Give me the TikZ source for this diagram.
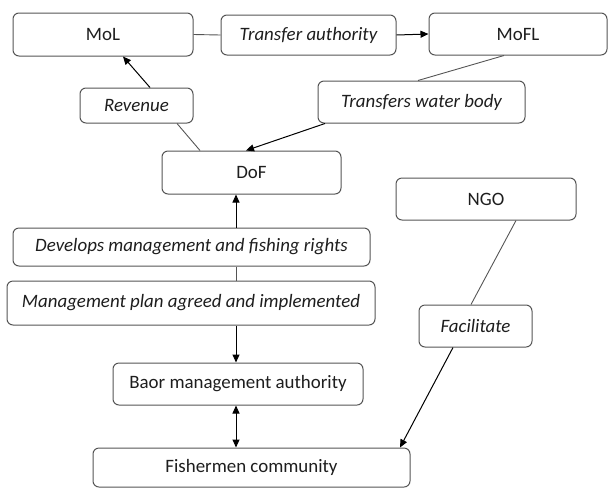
\documentclass[tikz,border=0pt]{standalone}
\usepackage{fontspec}
\setmainfont{Carlito}
\usetikzlibrary{arrows.meta}
\definecolor{boxline}{HTML}{555555}
\definecolor{txt}{HTML}{1E1E1E}
\definecolor{thin}{HTML}{555555}
\begin{document}
\begin{tikzpicture}[x=1pt,y=-1pt,
  box/.style={draw=boxline,line width=1pt,rounded corners=6pt,fill=white,
    text=txt,font=\fontsize{18.9}{22}\selectfont,inner sep=0pt,anchor=center},
  ibox/.style={box,font=\fontsize{18.9}{22}\selectfont\itshape},
  arr/.style={draw=black,line width=1pt,-{Triangle[length=8pt,width=7pt]}},
  darr/.style={draw=black,line width=1pt,{Triangle[length=8pt,width=7pt]}-{Triangle[length=8pt,width=7pt]}},
  pline/.style={draw=thin,line width=0.9pt}]
\useasboundingbox (0,0) rectangle (609,488);
\node[box,minimum width=180pt,minimum height=43pt] (mol) at (103,34.5) {MoL};
\node[ibox,minimum width=175pt,minimum height=40pt] (ta) at (308.5,35) {Transfer authority};
\node[box,minimum width=178pt,minimum height=42pt] (mofl) at (518,34) {MoFL};
\node[ibox,minimum width=113pt,minimum height=35pt] (rev) at (136.5,105.5) {Revenue};
\node[ibox,minimum width=207pt,minimum height=42pt] (twb) at (421.5,102) {Transfers water body};
\node[box,minimum width=179pt,minimum height=43pt] (dof) at (251.5,172.5) {DoF};
\node[box,minimum width=180pt,minimum height=42pt] (ngo) at (486,199) {NGO};
\node[ibox,minimum width=357pt,minimum height=38pt] (dev) at (191.5,247) {Develops management and fishing rights};
\node[ibox,minimum width=368pt,minimum height=44pt] (mp) at (191,303) {Management plan agreed and implemented};
\node[ibox,minimum width=113pt,minimum height=42pt] (fac) at (475.5,326) {Facilitate};
\node[box,minimum width=250pt,minimum height=42pt] (baor) at (238,384) {Baor management authority};
\node[box,minimum width=317pt,minimum height=39pt] (fish) at (251.5,467.5) {Fishermen community};
% connectors
\draw[pline] (mol.east) -- (ta.west);
\draw[arr] (ta.east) -- (mofl.west);
\draw[arr] ([xshift=13.5pt]rev.north) -- ([xshift=20pt]mol.south);
\draw[pline] ([xshift=-51.5pt]dof.north) -- ([xshift=40.5pt]rev.south);
\draw[pline] ([xshift=-14pt]mofl.south) -- ([xshift=-3.5pt]twb.north);
\draw[arr] ([xshift=-96.5pt]twb.south) -- ([xshift=-5.5pt]dof.north);
\draw[arr] ([xshift=44.5pt]dev.north) -- ([xshift=-15.5pt]dof.south);
\draw[pline] ([xshift=44.5pt]dev.south) -- ([xshift=45pt]mp.north);
\draw[arr] ([xshift=45pt]mp.south) -- ([xshift=-2pt]baor.north);
\draw[darr] ([xshift=-2pt]baor.south) -- ([xshift=-15.5pt]fish.north);
\draw[pline] ([xshift=30pt]ngo.south) -- ([xshift=-4.5pt]fac.north);
\draw[arr] ([xshift=-22.5pt]fac.south) -- ([xshift=148.5pt]fish.north);
\end{tikzpicture}
\end{document}
